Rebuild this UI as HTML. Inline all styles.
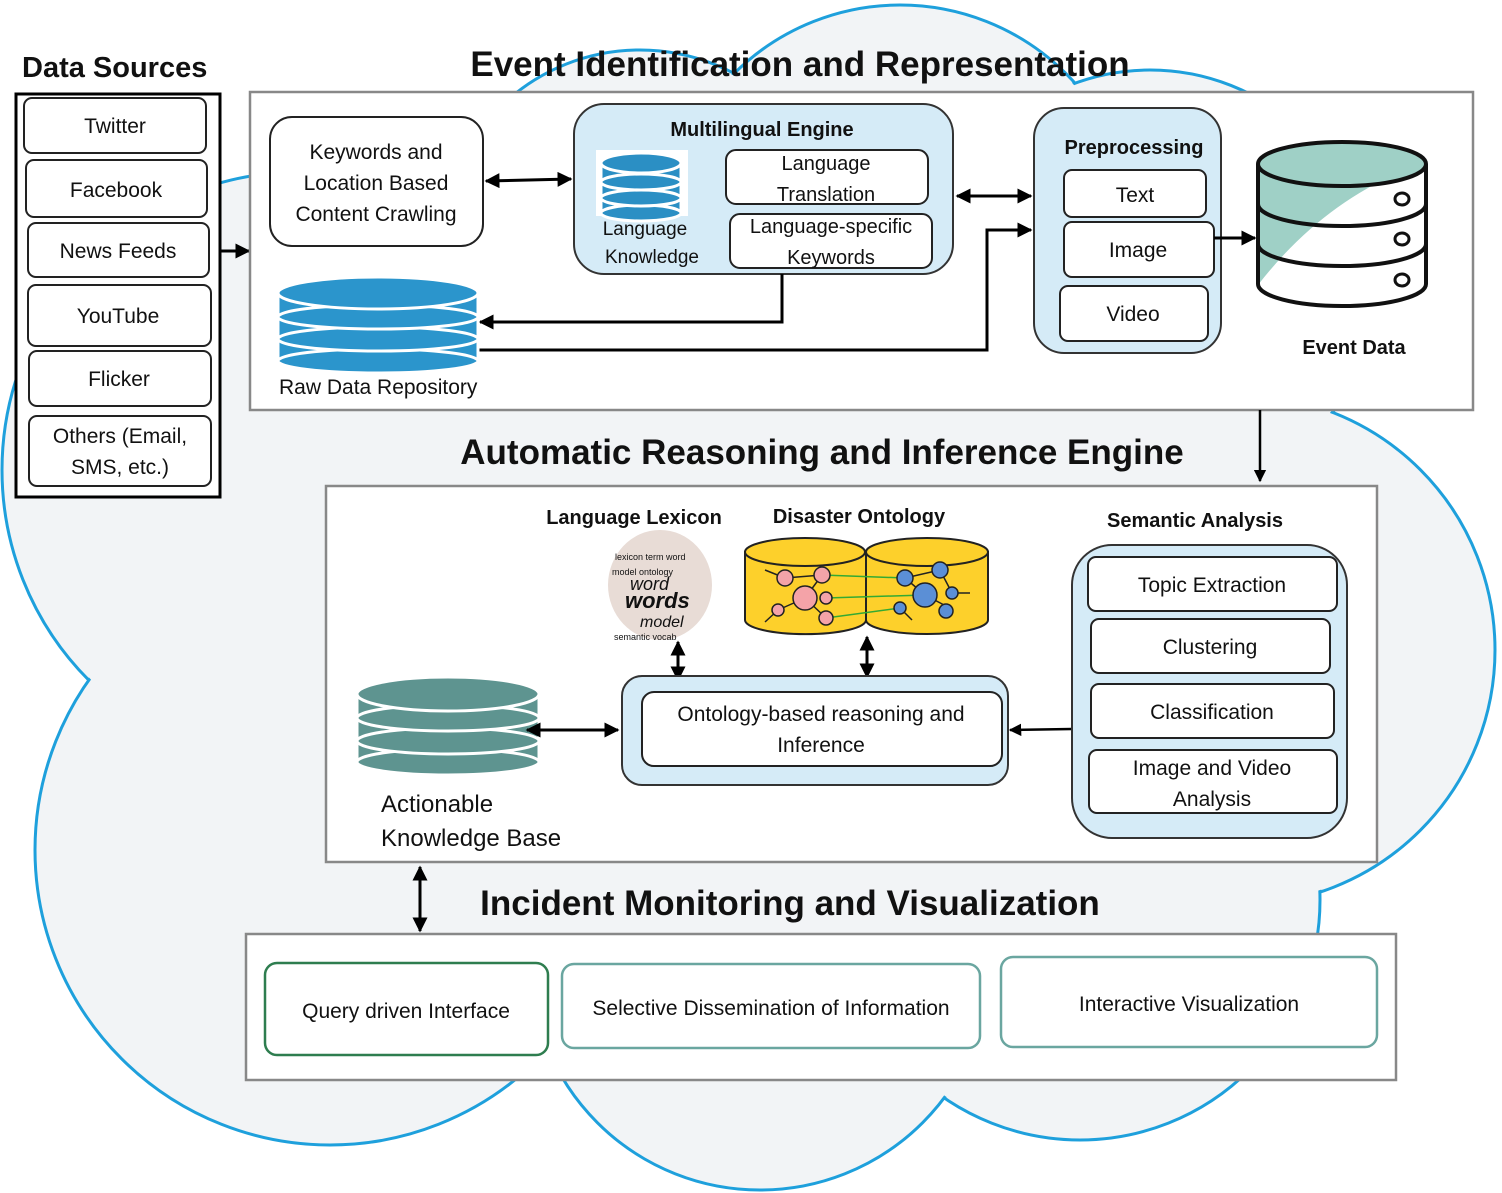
<!DOCTYPE html>
<html><head><meta charset="utf-8"><style>
html,body{margin:0;padding:0;background:#fff}
svg{display:block}
text{font-family:"Liberation Sans",sans-serif;fill:#111}
.b{font-weight:bold}
</style></head><body>
<svg width="1502" height="1193" viewBox="0 0 1502 1193" xmlns="http://www.w3.org/2000/svg">
<defs>
<marker id="ah" viewBox="0 0 10 10" refX="9" refY="5" markerWidth="5" markerHeight="5" orient="auto-start-reverse"><path d="M0,0 L10,5 L0,10 z" fill="#000"/></marker>
</defs>
<!-- cloud -->
<g stroke="#1ea0dc" stroke-width="3" fill="#f2f4f6">
<circle cx="300" cy="470" r="298"/><circle cx="330" cy="850" r="295"/><circle cx="640" cy="250" r="200"/>
<circle cx="900" cy="240" r="235"/><circle cx="1150" cy="290" r="220"/><circle cx="1240" cy="650" r="255"/>
<circle cx="1080" cy="900" r="240"/><circle cx="760" cy="960" r="230"/>
</g>
<g fill="#f2f4f6">
<circle cx="300" cy="470" r="296"/><circle cx="330" cy="850" r="293"/><circle cx="640" cy="250" r="198"/>
<circle cx="900" cy="240" r="233"/><circle cx="1150" cy="290" r="218"/><circle cx="1240" cy="650" r="253"/>
<circle cx="1080" cy="900" r="238"/><circle cx="760" cy="960" r="228"/><circle cx="720" cy="600" r="380"/>
</g>

<!-- Data sources -->
<text x="22" y="77" class="b" font-size="29">Data Sources</text>
<rect x="16" y="94" width="204" height="403" fill="#fff" stroke="#000" stroke-width="3"/>
<g fill="#fff" stroke="#222" stroke-width="2">
<rect x="24" y="98" width="182" height="55" rx="8"/><rect x="26" y="160" width="181" height="57" rx="8"/>
<rect x="28" y="223" width="181" height="54" rx="8"/><rect x="28" y="285" width="183" height="61" rx="8"/>
<rect x="29" y="351" width="182" height="55" rx="8"/><rect x="29" y="416" width="182" height="70" rx="8"/>
</g>
<g font-size="21" text-anchor="middle">
<text x="115" y="133">Twitter</text><text x="116" y="197">Facebook</text><text x="118" y="258">News Feeds</text>
<text x="118" y="323">YouTube</text><text x="119" y="386">Flicker</text>
<text x="120" y="443">Others (Email,</text><text x="120" y="474">SMS, etc.)</text>
</g>
<line x1="220" y1="251" x2="249" y2="251" stroke="#000" stroke-width="3" marker-end="url(#ah)"/>

<!-- Box 1 -->
<text x="800" y="76" class="b" font-size="35" text-anchor="middle">Event Identification and Representation</text>
<rect x="250" y="92" width="1223" height="318" fill="#fff" stroke="#888" stroke-width="2.5"/>
<rect x="270" y="117" width="213" height="129" rx="22" fill="#fff" stroke="#222" stroke-width="2"/>
<g font-size="21" text-anchor="middle"><text x="376" y="159">Keywords and</text><text x="376" y="190">Location Based</text><text x="376" y="221">Content Crawling</text></g>
<line x1="486" y1="181" x2="571" y2="179" stroke="#000" stroke-width="3" marker-start="url(#ah)" marker-end="url(#ah)"/>

<rect x="574" y="104" width="379" height="170" rx="30" fill="#d5ebf7" stroke="#333" stroke-width="2"/>
<text x="762" y="136" class="b" font-size="20" text-anchor="middle">Multilingual Engine</text>
<rect x="596" y="150" width="92" height="66" fill="#fff"/>
<g fill="#2b8fc4" stroke="#fff" stroke-width="3">
<rect x="601" y="195" width="80" height="18"/><ellipse cx="641" cy="213" rx="40" ry="8"/>
<rect x="601" y="180" width="80" height="18"/><ellipse cx="641" cy="198" rx="40" ry="8"/>
<rect x="601" y="164" width="80" height="18"/><ellipse cx="641" cy="182" rx="40" ry="8"/>
<ellipse cx="641" cy="163" rx="40" ry="10"/>
</g>
<g font-size="19" text-anchor="middle"><text x="645" y="235">Language</text><text x="652" y="263">Knowledge</text></g>
<rect x="726" y="150" width="202" height="54" rx="10" fill="#fff" stroke="#222" stroke-width="2"/>
<rect x="730" y="214" width="202" height="54" rx="10" fill="#fff" stroke="#222" stroke-width="2"/>
<g font-size="20" text-anchor="middle"><text x="826" y="170">Language</text><text x="826" y="201">Translation</text>
<text x="831" y="233">Language-specific</text><text x="831" y="264">Keywords</text></g>
<line x1="957" y1="196" x2="1031" y2="196" stroke="#000" stroke-width="3" marker-start="url(#ah)" marker-end="url(#ah)"/>
<polyline points="782,274 782,322 480,322" fill="none" stroke="#000" stroke-width="3" marker-end="url(#ah)"/>
<polyline points="478,350 987,350 987,230 1031,230" fill="none" stroke="#000" stroke-width="3" marker-end="url(#ah)"/>

<g fill="#2b95cc" stroke="#fff" stroke-width="3">
<rect x="278" y="335" width="200" height="26"/><ellipse cx="378" cy="361" rx="100" ry="12"/>
<rect x="278" y="315" width="200" height="24"/><ellipse cx="378" cy="339" rx="100" ry="12"/>
<rect x="278" y="293" width="200" height="24"/><ellipse cx="378" cy="317" rx="100" ry="12"/>
<ellipse cx="378" cy="293" rx="100" ry="16"/>
</g>
<text x="279" y="394" font-size="21">Raw Data Repository</text>

<rect x="1034" y="108" width="187" height="245" rx="30" fill="#d5ebf7" stroke="#333" stroke-width="2"/>
<text x="1134" y="154" class="b" font-size="20" text-anchor="middle">Preprocessing</text>
<g fill="#fff" stroke="#222" stroke-width="2">
<rect x="1064" y="170" width="142" height="47" rx="8"/><rect x="1064" y="222" width="150" height="55" rx="8"/><rect x="1060" y="286" width="148" height="55" rx="8"/>
</g>
<g font-size="21" text-anchor="middle"><text x="1135" y="202">Text</text><text x="1138" y="257">Image</text><text x="1133" y="321">Video</text></g>
<line x1="1214" y1="238" x2="1255" y2="238" stroke="#000" stroke-width="3" marker-end="url(#ah)"/>

<!-- Event DB -->
<path d="M1258,164 L1258,284 A84,22 0 0 0 1426,284 L1426,164 Z" fill="#fff"/>
<path d="M1258,164 L1258,285 Q1320,205 1405,170 Z" fill="#9fd0c6"/>
<ellipse cx="1342" cy="164" rx="84" ry="22" fill="#9fd0c6" stroke="#111" stroke-width="4"/>
<path d="M1258,164 L1258,284 A84,22 0 0 0 1426,284 L1426,164" fill="none" stroke="#111" stroke-width="4"/>
<path d="M1258,204 A84,22 0 0 0 1426,204 M1258,244 A84,22 0 0 0 1426,244" fill="none" stroke="#111" stroke-width="4"/>
<g fill="#fff" stroke="#111" stroke-width="3"><ellipse cx="1402" cy="199" rx="7" ry="6"/><ellipse cx="1402" cy="239" rx="7" ry="6"/><ellipse cx="1402" cy="280" rx="7" ry="6"/></g>
<text x="1354" y="354" class="b" font-size="20" text-anchor="middle">Event Data</text>
<line x1="1260" y1="410" x2="1260" y2="481" stroke="#000" stroke-width="2.5" marker-end="url(#ah)"/>

<!-- Box 2 -->
<text x="822" y="464" class="b" font-size="35" text-anchor="middle">Automatic Reasoning and Inference Engine</text>
<rect x="326" y="486" width="1051" height="376" fill="#fff" stroke="#888" stroke-width="2.5"/>
<text x="634" y="524" class="b" font-size="20" text-anchor="middle">Language Lexicon</text>
<text x="859" y="523" class="b" font-size="20" text-anchor="middle">Disaster Ontology</text>
<ellipse cx="660" cy="585" rx="52" ry="55" fill="#e8dcd6"/>
<g font-size="9" fill="#a77">
<text x="615" y="560" fill="#8aa">lexicon term word</text><text x="612" y="575" fill="#b88">model ontology</text>
<text x="614" y="640" fill="#9ab">semantic vocab</text>
</g>
<text x="630" y="590" font-size="18" font-style="italic" font-family="Liberation Serif,serif">word</text>
<text x="625" y="608" font-size="22" font-weight="bold" font-style="italic" font-family="Liberation Serif,serif">words</text>
<text x="640" y="627" font-size="16" font-style="italic" fill="#c22" font-family="Liberation Serif,serif">model</text>

<!-- ontology cylinders -->
<g stroke="#222" stroke-width="2" fill="#fdd02b">
<path d="M745,552 L745,620 A60,14 0 0 0 866,620 L866,552 Z"/><ellipse cx="805" cy="552" rx="60" ry="14"/>
<path d="M866,552 L866,620 A61,14 0 0 0 988,620 L988,552 Z"/><ellipse cx="927" cy="552" rx="61" ry="14"/>
</g>
<g stroke="#3a3" stroke-width="1.5"><line x1="822" y1="575" x2="905" y2="578"/><line x1="826" y1="598" x2="925" y2="595"/><line x1="826" y1="618" x2="900" y2="608"/></g>
<g stroke="#222" stroke-width="1.5">
<line x1="785" y1="578" x2="822" y2="575"/><line x1="805" y1="598" x2="822" y2="575"/><line x1="805" y1="598" x2="826" y2="618"/><line x1="778" y1="610" x2="805" y2="598"/><line x1="765" y1="570" x2="785" y2="578"/><line x1="765" y1="622" x2="778" y2="610"/>
<line x1="905" y1="578" x2="940" y2="570"/><line x1="905" y1="578" x2="925" y2="595"/><line x1="925" y1="595" x2="946" y2="606"/><line x1="940" y1="570" x2="952" y2="593"/><line x1="952" y1="593" x2="970" y2="593"/><line x1="900" y1="608" x2="912" y2="620"/>
</g>
<g stroke="#222" stroke-width="1.5" fill="#f4a3a8"><circle cx="785" cy="578" r="8"/><circle cx="822" cy="575" r="8"/><circle cx="805" cy="598" r="12"/><circle cx="826" cy="598" r="6"/><circle cx="778" cy="610" r="6"/><circle cx="826" cy="618" r="7"/></g>
<g stroke="#222" stroke-width="1.5" fill="#5b8fd6"><circle cx="905" cy="578" r="8"/><circle cx="940" cy="570" r="8"/><circle cx="925" cy="595" r="12"/><circle cx="952" cy="593" r="6"/><circle cx="900" cy="608" r="6"/><circle cx="946" cy="611" r="7"/></g>
<line x1="678" y1="642" x2="678" y2="680" stroke="#000" stroke-width="3" marker-start="url(#ah)" marker-end="url(#ah)"/>
<line x1="867" y1="637" x2="867" y2="677" stroke="#000" stroke-width="3" marker-start="url(#ah)" marker-end="url(#ah)"/>

<rect x="622" y="676" width="386" height="109" rx="20" fill="#d5ebf7" stroke="#333" stroke-width="2"/>
<rect x="642" y="692" width="360" height="74" rx="12" fill="#fff" stroke="#222" stroke-width="2"/>
<g font-size="21" text-anchor="middle"><text x="821" y="721">Ontology-based reasoning and</text><text x="821" y="752">Inference</text></g>

<g fill="#5e9490" stroke="#fff" stroke-width="3">
<rect x="357" y="740" width="182" height="22"/><ellipse cx="448" cy="762" rx="91" ry="13"/>
<rect x="357" y="718" width="182" height="24"/><ellipse cx="448" cy="741" rx="91" ry="13"/>
<rect x="357" y="694" width="182" height="24"/><ellipse cx="448" cy="718" rx="91" ry="13"/>
<ellipse cx="448" cy="694" rx="91" ry="17"/>
</g>
<line x1="527" y1="730" x2="618" y2="730" stroke="#000" stroke-width="3" marker-start="url(#ah)" marker-end="url(#ah)"/>
<g font-size="24"><text x="381" y="812">Actionable</text><text x="381" y="846">Knowledge Base</text></g>
<line x1="1072" y1="729" x2="1010" y2="730" stroke="#000" stroke-width="2.5" marker-end="url(#ah)"/>

<text x="1195" y="527" class="b" font-size="20" text-anchor="middle">Semantic Analysis</text>
<rect x="1072" y="545" width="275" height="293" rx="40" fill="#d5ebf7" stroke="#333" stroke-width="2"/>
<g fill="#fff" stroke="#222" stroke-width="2">
<rect x="1088" y="557" width="249" height="54" rx="8"/><rect x="1091" y="619" width="239" height="54" rx="8"/>
<rect x="1091" y="684" width="243" height="54" rx="8"/><rect x="1089" y="750" width="248" height="63" rx="8"/>
</g>
<g font-size="21" text-anchor="middle"><text x="1212" y="592">Topic Extraction</text><text x="1210" y="654">Clustering</text>
<text x="1212" y="719">Classification</text><text x="1212" y="775">Image and Video</text><text x="1212" y="806">Analysis</text></g>

<line x1="420" y1="867" x2="420" y2="931" stroke="#000" stroke-width="3" marker-start="url(#ah)" marker-end="url(#ah)"/>

<!-- Box 3 -->
<text x="790" y="915" class="b" font-size="35" text-anchor="middle">Incident Monitoring and Visualization</text>
<rect x="246" y="934" width="1150" height="146" fill="#fff" stroke="#888" stroke-width="2.5"/>
<rect x="265" y="963" width="283" height="92" rx="12" fill="#fff" stroke="#2e7d4f" stroke-width="2.5"/>
<rect x="562" y="964" width="418" height="84" rx="12" fill="#fff" stroke="#6aa6a0" stroke-width="2.5"/>
<rect x="1001" y="957" width="376" height="90" rx="12" fill="#fff" stroke="#6aa6a0" stroke-width="2.5"/>
<g font-size="21" text-anchor="middle"><text x="406" y="1018">Query driven Interface</text>
<text x="771" y="1015">Selective Dissemination of Information</text><text x="1189" y="1011">Interactive Visualization</text></g>
</svg>
</body></html>
